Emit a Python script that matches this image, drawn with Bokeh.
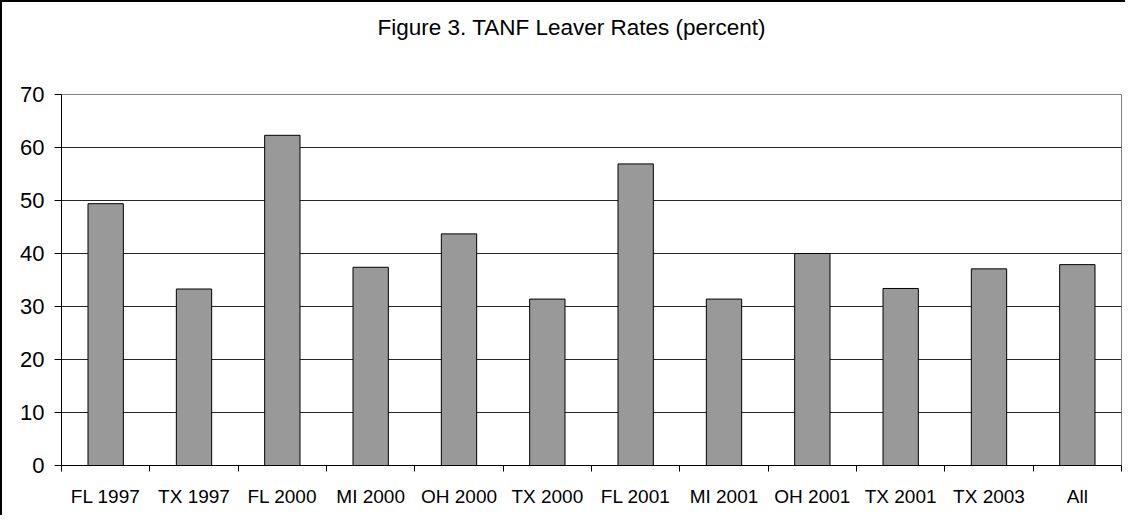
from bokeh.plotting import figure
from bokeh.models import Range1d, FixedTicker, Title
from bokeh.embed import file_html
from bokeh.resources import INLINE

categories = ["FL 1997", "TX 1997", "FL 2000", "MI 2000", "OH 2000", "TX 2000",
              "FL 2001", "MI 2001", "OH 2001", "TX 2001", "TX 2003", "All"]
rates = [49.4, 33.3, 62.3, 37.4, 43.7, 31.4, 56.9, 31.4, 40.0, 33.4, 37.1, 37.9]
y_ticks = [0, 10, 20, 30, 40, 50, 60, 70]
title_text = "Figure 3. TANF Leaver Rates (percent)"

positions = list(range(1, len(categories) + 1))
boundaries = [x - 0.5 for x in positions] + [positions[-1] + 0.5]

FONT = "Liberation Sans"

p = figure(width=1125, height=515,
           x_range=Range1d(0.5, len(categories) + 0.5),
           y_range=Range1d(y_ticks[0], y_ticks[-1]),
           output_backend="svg", toolbar_location=None,
           min_border_left=61, min_border_right=4,
           min_border_top=94, min_border_bottom=50)

p.vbar(x=positions, top=rates, bottom=0, width=0.4,
       fill_color="#999999", line_color="black", line_width=1)

# spacer between frame and title, then the title itself
spacer = Title(text=" ", text_font=FONT, text_font_size="1px", standoff=52)
p.add_layout(spacer, "above")
main_title = Title(text=title_text, align="left", offset=316, standoff=0,
                   text_font=FONT, text_font_size="22.5px",
                   text_font_style="normal", text_color="black")
p.add_layout(main_title, "above")

# frame / background
p.background_fill_color = "white"
p.border_fill_color = None
p.outline_line_color = "#808080"
p.outline_line_width = 1
p.styles = {"box-shadow": "inset 2px 2px 0 0 #000000"}

# grid
p.xgrid.visible = False
p.ygrid.ticker = FixedTicker(ticks=y_ticks)
p.ygrid.grid_line_color = "#262626"
p.ygrid.grid_line_width = 1

# y axis
p.yaxis.ticker = FixedTicker(ticks=y_ticks)
p.yaxis.axis_line_color = "black"
p.yaxis.major_tick_line_color = "black"
p.yaxis.major_tick_out = 7
p.yaxis.major_tick_in = 0
p.yaxis.minor_tick_line_color = None
p.yaxis.major_label_standoff = 10
p.yaxis.major_label_text_font = FONT
p.yaxis.major_label_text_font_size = "22px"
p.yaxis.major_label_text_color = "black"

# x axis: labels at centres, tick marks at category boundaries
p.xaxis.ticker = FixedTicker(ticks=positions, minor_ticks=boundaries)
p.xaxis.major_label_overrides = {pos: cat for pos, cat in zip(positions, categories)}
p.xaxis.axis_line_color = "black"
p.xaxis.major_tick_out = 0
p.xaxis.major_tick_in = 0
p.xaxis.major_tick_line_color = None
p.xaxis.minor_tick_out = 6
p.xaxis.minor_tick_in = 0
p.xaxis.minor_tick_line_color = "black"
p.xaxis.major_label_standoff = 14
p.xaxis.major_label_text_font = FONT
p.xaxis.major_label_text_font_size = "19px"
p.xaxis.major_label_text_color = "black"

open("out.html", "w").write(file_html(p, INLINE))
